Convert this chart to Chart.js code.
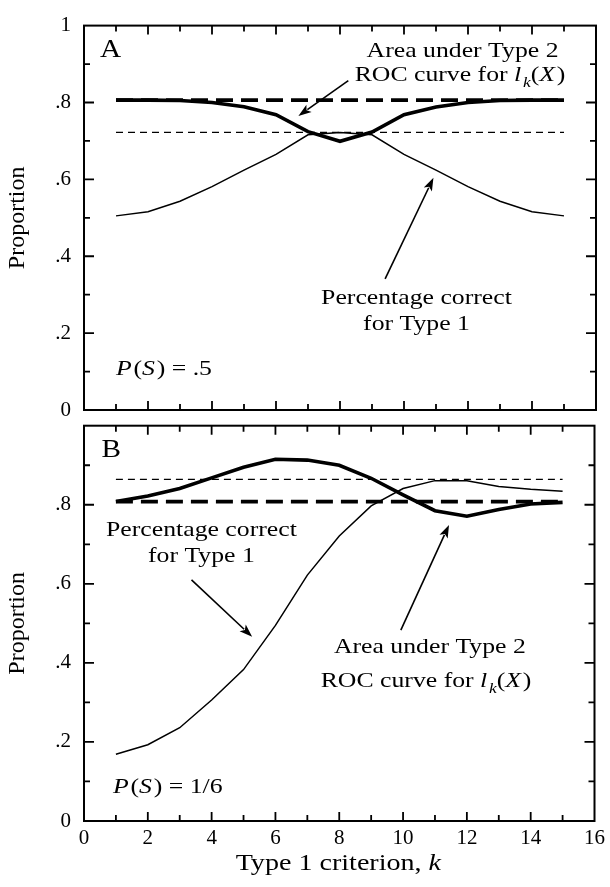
<!DOCTYPE html>
<html>
<head>
<meta charset="utf-8">
<script src="https://cdn.jsdelivr.net/npm/chart.js@4.4.1/dist/chart.umd.min.js"></script>
<style>
  html, body { margin: 0; padding: 0; background: #fff; }
  #wrap { position: relative; width: 610px; height: 887px; }
  canvas { position: absolute; left: 0; }
  #panel-a { top: 0; }
  #panel-b { top: 400px; }
  .probe { position: absolute; left: 0; top: 0; visibility: hidden; }
</style>
</head>
<body>
<div id="wrap">
  <canvas id="panel-a" width="610" height="440"></canvas>
  <canvas id="panel-b" width="610" height="487"></canvas>
  <span class="probe" style="font-family: 'Liberation Serif'">0</span>
  <span class="probe" style="font-family: 'Liberation Serif'; font-style: italic">k</span>
</div>
<script>
// Type 1 criterion k
const criterion = [1, 2, 3, 4, 5, 6, 7, 8, 9, 10, 11, 12, 13, 14, 15];

// Panel A, P(S) = .5
const areaA    = [0.806, 0.806, 0.805, 0.800, 0.789, 0.768, 0.724, 0.699, 0.723, 0.768, 0.788, 0.800, 0.805, 0.806, 0.806];
const correctA = [0.505, 0.516, 0.543, 0.581, 0.624, 0.665, 0.716, 0.722, 0.716, 0.665, 0.624, 0.581, 0.543, 0.516, 0.505];
const areaRefA = 0.806;
const correctRefA = 0.722;

// Panel B, P(S) = 1/6
const areaB    = [0.808, 0.822, 0.841, 0.868, 0.895, 0.915, 0.913, 0.900, 0.867, 0.825, 0.785, 0.771, 0.788, 0.802, 0.806];
const correctB = [0.169, 0.193, 0.236, 0.306, 0.383, 0.495, 0.622, 0.721, 0.797, 0.841, 0.861, 0.861, 0.846, 0.839, 0.834];
const areaRefB = 0.808;
const correctRefB = 0.864;

// tick labels
const xMajor = [0, 2, 4, 6, 8, 10, 12, 14, 16];
const yMajor = [0, 0.2, 0.4, 0.6, 0.8, 1];
const yTextA = ['0', '.2', '.4', '.6', '.8', '1'];
const yTextB = ['0', '.2', '.4', '.6', '.8', ''];

const SERIF = "'Liberation Serif', Tinos, 'Times New Roman', Times, serif";
const STRETCH = 1.17;

Chart.defaults.font.family = SERIF;
Chart.defaults.color = '#000';

function pts(ys) {
  return criterion.map((k, i) => ({ x: k, y: ys[i] }));
}
function flat(v) {
  const first = criterion[0], last = criterion[criterion.length - 1];
  return [{ x: first, y: v }, { x: last, y: v }];
}

function partFont(style, size) {
  if (style === 'sub') return 'italic ' + Math.round(size * 0.68) + 'px ' + SERIF;
  if (style === 'i') return 'italic ' + size + 'px ' + SERIF;
  return size + 'px ' + SERIF;
}

// mixed roman / italic / subscript text, widened a little like the typeset labels
function drawRich(ctx, parts, x, y, align, size) {
  let w = 0;
  parts.forEach(([t, s]) => { ctx.font = partFont(s, size); w += ctx.measureText(t).width + (s === 'i' ? 1.5 : 0); });
  const left = align === 'center' ? x - (w * STRETCH) / 2 : x;
  ctx.save();
  ctx.translate(left, y);
  ctx.scale(STRETCH, 1);
  ctx.textAlign = 'left';
  ctx.textBaseline = 'alphabetic';
  let ox = 0;
  parts.forEach(([t, s]) => {
    ctx.font = partFont(s, size);
    ctx.fillText(t, ox, s === 'sub' ? size * 0.28 : 0);
    ox += ctx.measureText(t).width + (s === 'i' ? 1.5 : 0);
  });
  ctx.restore();
}

function drawArrow(ctx, x0, y0, x1, y1) {
  const ang = Math.atan2(y1 - y0, x1 - x0);
  const len = 13, half = 4.5;
  ctx.lineWidth = 1.6;
  ctx.beginPath();
  ctx.moveTo(x0, y0);
  ctx.lineTo(x1 - Math.cos(ang) * (len - 2), y1 - Math.sin(ang) * (len - 2));
  ctx.stroke();
  ctx.beginPath();
  ctx.moveTo(x1, y1);
  ctx.lineTo(x1 - Math.cos(ang) * len - Math.sin(ang) * half, y1 - Math.sin(ang) * len + Math.cos(ang) * half);
  ctx.lineTo(x1 - Math.cos(ang) * (len - 3), y1 - Math.sin(ang) * (len - 3));
  ctx.lineTo(x1 - Math.cos(ang) * len + Math.sin(ang) * half, y1 - Math.sin(ang) * len - Math.cos(ang) * half);
  ctx.closePath();
  ctx.fill();
}

// frame, inward ticks, notes, arrows and axis titles
function makeDecor(cfg) {
  return {
    id: 'panelDecor',
    afterDatasetsDraw(chart) {
      const { ctx, chartArea: a, scales: { x, y } } = chart;
      ctx.save();
      ctx.strokeStyle = '#000';
      ctx.fillStyle = '#000';
      ctx.lineWidth = 2;
      ctx.strokeRect(a.left, a.top, a.right - a.left, a.bottom - a.top);

      ctx.lineWidth = 1.8;
      ctx.beginPath();
      x.ticks.forEach(t => {
        if (t.value <= x.min || t.value >= x.max) return;
        const px = x.getPixelForValue(t.value);
        const len = Math.round(t.value) % 2 === 0 ? 9 : 6;
        ctx.moveTo(px, a.bottom); ctx.lineTo(px, a.bottom - len);
        ctx.moveTo(px, a.top); ctx.lineTo(px, a.top + len);
      });
      y.ticks.forEach(t => {
        if (t.value <= y.min + 1e-6 || t.value >= y.max - 1e-6) return;
        const py = y.getPixelForValue(t.value);
        const len = Math.round(t.value * 10) % 2 === 0 ? 10 : 6;
        ctx.moveTo(a.left, py); ctx.lineTo(a.left + len, py);
        ctx.moveTo(a.right, py); ctx.lineTo(a.right - len, py);
      });
      ctx.stroke();

      cfg.notes.forEach(n => {
        drawRich(ctx, n.parts, x.getPixelForValue(n.x), y.getPixelForValue(n.y), n.align, n.size || 22);
      });
      cfg.arrows.forEach(([x0, y0, x1, y1]) => {
        drawArrow(ctx, x.getPixelForValue(x0), y.getPixelForValue(y0), x.getPixelForValue(x1), y.getPixelForValue(y1));
      });

      // y title
      ctx.save();
      ctx.translate(24, (a.top + a.bottom) / 2);
      ctx.rotate(-Math.PI / 2);
      ctx.font = '24px ' + SERIF;
      ctx.textAlign = 'center';
      ctx.textBaseline = 'alphabetic';
      ctx.fillText('Proportion', 0, 0);
      ctx.restore();

      if (cfg.xTitle) {
        drawRich(ctx, [['Type 1 criterion, ', ''], ['k', 'i']], (a.left + a.right) / 2, a.bottom + 49, 'center', 24);
      }
      ctx.restore();
    },
  };
}

function makeChart(id, opts) {
  const thick = 3.6, thin = 1.5;
  return new Chart(document.getElementById(id), {
    type: 'line',
    data: {
      datasets: [
        { data: pts(opts.area), borderColor: '#000', borderWidth: thick },
        { data: pts(opts.correct), borderColor: '#000', borderWidth: thin },
        { data: flat(opts.areaRef), borderColor: '#000', borderWidth: thick, borderDash: [17, 8] },
        { data: flat(opts.correctRef), borderColor: '#000', borderWidth: 1.3, borderDash: [7, 5] },
      ],
    },
    options: {
      responsive: false,
      animation: false,
      devicePixelRatio: 1,
      layout: { padding: opts.padding },
      elements: { point: { radius: 0 }, line: { tension: 0, fill: false } },
      plugins: { legend: { display: false }, tooltip: { enabled: false } },
      scales: {
        x: {
          type: 'linear',
          min: 0,
          max: 16,
          grid: { display: false, drawTicks: false },
          border: { display: false },
          ticks: {
            display: opts.xLabels,
            stepSize: 1,
            autoSkip: false,
            maxRotation: 0,
            padding: 5,
            color: '#000',
            font: { size: 21 },
            callback: v => (xMajor.includes(v) ? String(v) : ''),
          },
          afterFit: s => { s.height = opts.xHeight; },
        },
        y: {
          min: 0,
          max: 1,
          grid: { display: false, drawTicks: false },
          border: { display: false },
          ticks: {
            stepSize: 0.1,
            autoSkip: false,
            padding: 13,
            color: '#000',
            font: { size: 21 },
            callback: v => {
              const i = yMajor.findIndex(m => Math.abs(m - v) < 1e-6);
              return i < 0 ? '' : opts.yText[i];
            },
          },
          afterFit: s => { s.width = 84; },
        },
      },
    },
    plugins: [makeDecor(opts.decor)],
  });
}

function drawAll() {
  makeChart('panel-a', {
    area: areaA, correct: correctA, areaRef: areaRefA, correctRef: correctRefA,
    yText: yTextA, xLabels: false, xHeight: 0,
    padding: { left: 0, right: 14, top: 14.3, bottom: 30 },
    decor: {
      xTitle: false,
      notes: [
        { parts: [['A', '']], x: 0.5, y: 0.918, align: 'left', size: 25 },
        { parts: [['Area under Type 2', '']], x: 11.83, y: 0.918, align: 'center' },
        { parts: [['ROC curve for ', ''], ['l', 'i'], ['k', 'sub'], ['(', ''], ['X', 'i'], [')', '']], x: 11.75, y: 0.857, align: 'center' },
        { parts: [['Percentage correct', '']], x: 10.39, y: 0.276, align: 'center' },
        { parts: [['for Type 1', '']], x: 10.39, y: 0.209, align: 'center' },
        { parts: [['P', 'i'], ['(', ''], ['S', 'i'], [') = .5', '']], x: 1.0, y: 0.091, align: 'left' },
      ],
      arrows: [[8.26, 0.857, 6.70, 0.765], [9.41, 0.341, 10.92, 0.604]],
    },
  });

  makeChart('panel-b', {
    area: areaB, correct: correctB, areaRef: areaRefB, correctRef: correctRefB,
    yText: yTextB, xLabels: true, xHeight: 66,
    padding: { left: 0, right: 14, top: 25.7, bottom: 0 },
    decor: {
      xTitle: true,
      notes: [
        { parts: [['B', '']], x: 0.55, y: 0.922, align: 'left', size: 25 },
        { parts: [['Percentage correct', '']], x: 3.68, y: 0.721, align: 'center' },
        { parts: [['for Type 1', '']], x: 3.68, y: 0.656, align: 'center' },
        { parts: [['Area under Type 2', '']], x: 10.84, y: 0.424, align: 'center' },
        { parts: [['ROC curve for ', ''], ['l', 'i'], ['k', 'sub'], ['(', ''], ['X', 'i'], [')', '']], x: 10.72, y: 0.339, align: 'center' },
        { parts: [['P', 'i'], ['(', ''], ['S', 'i'], [') = 1/6', '']], x: 0.91, y: 0.070, align: 'left' },
      ],
      arrows: [[3.37, 0.610, 5.27, 0.466], [9.93, 0.483, 11.44, 0.749]],
    },
  });
}

// make sure the serif faces are ready before the canvases are painted
Promise.all([
  document.fonts.load("21px 'Liberation Serif'"),
  document.fonts.load("italic 21px 'Liberation Serif'"),
]).then(drawAll, drawAll);
</script>
</body>
</html>
